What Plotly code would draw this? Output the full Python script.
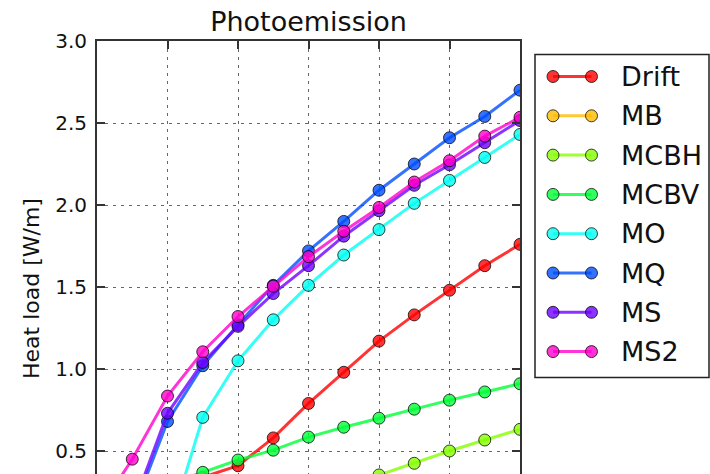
import plotly.graph_objects as go

# ---- data (x positions: beam energy grid, 0.5 steps) ----
x_vals = [1.0, 1.5, 2.0, 2.5, 3.0, 3.5, 4.0, 4.5, 5.0, 5.5, 6.0, 6.5, 7.0]

drift = [0.25, 0.27, 0.30, 0.34, 0.41, 0.58, 0.79, 0.98, 1.17, 1.33, 1.48, 1.63, 1.76]
mb    = [0.00, 0.00, 0.00, 0.01, 0.02, 0.04, 0.06, 0.09, 0.12, 0.16, 0.20, 0.25, 0.30]
mcbh  = [0.00, 0.01, 0.03, 0.06, 0.10, 0.15, 0.21, 0.28, 0.354, 0.425, 0.50, 0.567, 0.632]
mcbv  = [0.15, 0.22, 0.30, 0.37, 0.445, 0.505, 0.585, 0.645, 0.70, 0.755, 0.81, 0.86, 0.91]
mo    = [0.00, 0.00, 0.00, 0.705, 1.05, 1.30, 1.51, 1.695, 1.85, 2.01, 2.15, 2.29, 2.43]
mq    = [0.00, 0.12, 0.68, 1.02, 1.27, 1.51, 1.72, 1.90, 2.09, 2.25, 2.41, 2.54, 2.70]
ms    = [0.00, 0.15, 0.73, 1.04, 1.26, 1.46, 1.63, 1.81, 1.965, 2.12, 2.245, 2.38, 2.515]
ms2   = [0.12, 0.45, 0.835, 1.105, 1.32, 1.505, 1.685, 1.84, 1.985, 2.14, 2.27, 2.42, 2.535]

names = ["Drift", "MB", "MCBH", "MCBV", "MO", "MQ", "MS", "MS2"]
series = [drift, mb, mcbh, mcbv, mo, mq, ms, ms2]
rgb = [(255, 0, 0), (255, 188, 0), (133, 255, 0), (0, 255, 55),
       (0, 255, 243), (0, 78, 255), (110, 0, 255), (255, 0, 204)]

y_ticks = [0.5, 1.0, 1.5, 2.0, 2.5, 3.0]

ALPHA = 0.8
FONT = "DejaVu Sans"

def rgba(c, a=ALPHA):
    return f"rgba({c[0]},{c[1]},{c[2]},{a})"

fig = go.Figure()
for name, ys, c in zip(names, series, rgb):
    fig.add_trace(go.Scatter(
        x=x_vals, y=ys, name=name, mode="lines+markers",
        line=dict(color=rgba(c), width=3),
        marker=dict(size=12, color=rgba(c), line=dict(color="rgba(0,0,0,0.75)", width=1)),
        showlegend=False,
    ))

W, H = 710, 474
L, T, B = 97, 41, 0
R = W - 520
pw, ph = W - L - R, H - T - B

def px_x(p):  # page pixel -> paper
    return (p - L) / pw

def px_y(p):
    return (H - B - p) / ph

shapes = []
annotations = []
# legend frame
shapes.append(dict(type="rect", xref="paper", yref="paper",
                   x0=px_x(535), x1=px_x(709), y0=px_y(377.5), y1=px_y(54.5),
                   line=dict(color="#222", width=1.5), fillcolor="white", layer="above"))
for i, (name, c) in enumerate(zip(names, rgb)):
    yc = 76.5 + i * 39.3
    shapes.append(dict(type="line", xref="paper", yref="paper",
                       x0=px_x(553), x1=px_x(591.5), y0=px_y(yc), y1=px_y(yc),
                       line=dict(color=rgba(c), width=3), layer="above"))
    for xm in (553, 591.5):
        shapes.append(dict(type="circle", xref="paper", yref="paper",
                           xsizemode="pixel", ysizemode="pixel",
                           xanchor=px_x(xm), yanchor=px_y(yc),
                           x0=-6, x1=6, y0=-6, y1=6,
                           fillcolor=rgba(c), line=dict(color="rgba(0,0,0,0.75)", width=1),
                           layer="above"))
    annotations.append(dict(text=name, xref="paper", yref="paper",
                            x=px_x(619), y=px_y(yc), xanchor="left", yanchor="middle",
                            showarrow=False, font=dict(family=FONT, size=27, color="#111")))

# y-axis label (matplotlib centres it on the full axes, which runs below the view)
annotations.append(dict(text="Heat load [W/m]", xref="paper", yref="paper",
                        x=px_x(31), y=px_y(289), xanchor="center", yanchor="middle",
                        textangle=-90, showarrow=False,
                        font=dict(family=FONT, size=22, color="#111")))

fig.update_layout(
    width=W, height=H,
    margin=dict(l=L, r=R, t=T, b=B, autoexpand=False),
    paper_bgcolor="white", plot_bgcolor="white",
    font=dict(family=FONT, color="#111"),
    title=dict(text="Photoemission", x=0.5, xref="paper", xanchor="center",
               y=1 - 22 / H, yref="container", yanchor="middle",
               font=dict(family=FONT, size=27, color="#111")),
    shapes=shapes, annotations=annotations,
)
fig.update_xaxes(
    range=[1.0, 7.0], side="top", showline=True, linecolor="#333", linewidth=2,
    mirror=False, ticks="inside", ticklen=8, tickwidth=1.5, tickcolor="#333",
    dtick=1, tick0=1, showticklabels=False, showgrid=True,
    gridcolor="rgba(0,0,0,0.6)", gridwidth=1, griddash="3px,5px", zeroline=False,
    automargin=False,
)
fig.update_yaxes(
    range=[3 - ph / 164.0, 3.0], showline=True, linecolor="#333", linewidth=2,
    mirror="ticks", ticks="inside", ticklen=8, tickwidth=1.5, tickcolor="#333",
    tickvals=y_ticks, ticktext=[f"{v:.1f}" for v in y_ticks],
    tickfont=dict(family=FONT, size=20, color="#111"), ticklabelstandoff=4,
    showgrid=True, gridcolor="rgba(0,0,0,0.6)", gridwidth=1, griddash="3px,5px",
    zeroline=False, automargin=False,
)

fig.write_html("out.html", config={"displayModeBar": False},
               post_script="document.body.style.margin='0';document.body.style.overflow='hidden';")
